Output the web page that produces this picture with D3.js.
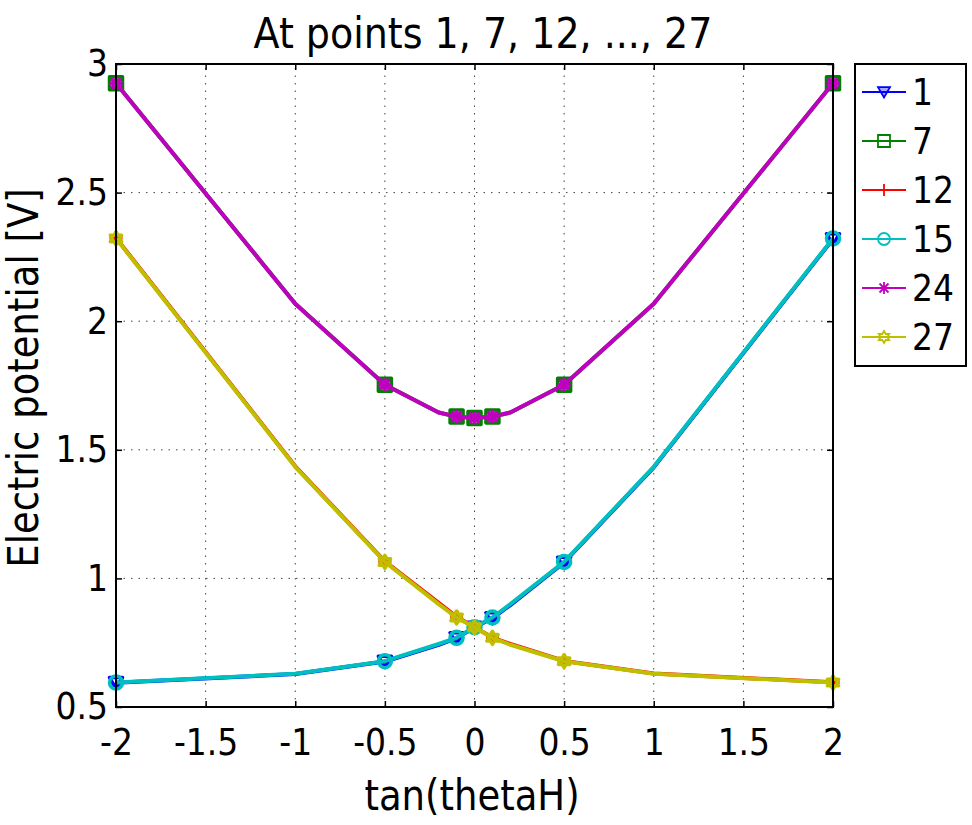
<!DOCTYPE html>
<html lang="en">
<head>
<meta charset="UTF-8">
<title>At points 1, 7, 12, ..., 27</title>
<script src="https://d3js.org/d3.v7.min.js"></script>
<style>
  body { margin: 0; background: #fff; }
  text { font-family: "DejaVu Sans", Verdana, sans-serif; fill: #000; }
</style>
</head>
<body>
<script>
// data
var xVals = [-2, -1, -0.5, -0.2, -0.1, 0, 0.1, 0.2, 0.5, 1, 2];
var markerX = [-2, -0.5, -0.1, 0, 0.1, 0.5, 2];
var xTicks = [-2, -1.5, -1, -0.5, 0, 0.5, 1, 1.5, 2];
var yTicks = [0.5, 1, 1.5, 2, 2.5, 3];
var pointNames = ["1", "7", "12", "15", "24", "27"];
var v1  = [0.594, 0.628, 0.677, 0.742, 0.768, 0.809, 0.846, 0.896, 1.062, 1.432, 2.320];
var v7  = [2.925, 2.068, 1.753, 1.645, 1.629, 1.624, 1.629, 1.645, 1.753, 2.068, 2.925];
var v12 = [2.324, 1.436, 1.066, 0.905, 0.851, 0.810, 0.770, 0.745, 0.679, 0.630, 0.596];
var v15 = [0.595, 0.629, 0.678, 0.745, 0.769, 0.810, 0.848, 0.900, 1.064, 1.434, 2.322];
var v24 = [2.925, 2.068, 1.753, 1.645, 1.629, 1.624, 1.629, 1.645, 1.753, 2.068, 2.925];
var v27 = [2.322, 1.434, 1.064, 0.900, 0.848, 0.810, 0.769, 0.742, 0.678, 0.629, 0.595];

var colors = ["#0000ff", "#008000", "#ff0000", "#00bfbf", "#bf00bf", "#bfbf00"];
var markers = ["v", "s", "+", "o", "*", "h"];
var allValues = [v1, v7, v12, v15, v24, v27];

var width = 972, height = 825;
var margin = {left: 116, right: 139, top: 64, bottom: 118};
var stretch = 1.13;   // the original text is a bit taller than DejaVu

var svg = d3.select("body").append("svg")
    .attr("width", width)
    .attr("height", height);

var x = d3.scaleLinear().domain([-2, 2]).range([margin.left, width - margin.right]);
var y = d3.scaleLinear().domain([0.5, 3]).range([height - margin.bottom, margin.top]);

// grid
var grid = svg.append("g").attr("stroke", "#444").attr("stroke-width", 1).attr("stroke-dasharray", "1.5,6");
grid.selectAll(".gx").data(xTicks).enter().append("line")
    .attr("x1", d => x(d)).attr("x2", d => x(d))
    .attr("y1", y(0.5)).attr("y2", y(3));
grid.selectAll(".gy").data(yTicks).enter().append("line")
    .attr("y1", d => y(d)).attr("y2", d => y(d))
    .attr("x1", x(-2)).attr("x2", x(2));

// axes with inward ticks
function fmt(d) { return String(d); }
var axB = svg.append("g").attr("transform", "translate(0," + y(0.5) + ")")
    .call(d3.axisBottom(x).tickValues(xTicks).tickFormat(fmt).tickSizeInner(-6).tickSizeOuter(0).tickPadding(19));
var axT = svg.append("g").attr("transform", "translate(0," + y(3) + ")")
    .call(d3.axisTop(x).tickValues(xTicks).tickFormat("").tickSizeInner(-6).tickSizeOuter(0));
var axL = svg.append("g").attr("transform", "translate(" + x(-2) + ",0)")
    .call(d3.axisLeft(y).tickValues(yTicks).tickFormat(fmt).tickSizeInner(-6).tickSizeOuter(0).tickPadding(8));
var axR = svg.append("g").attr("transform", "translate(" + x(2) + ",0)")
    .call(d3.axisRight(y).tickValues(yTicks).tickFormat("").tickSizeInner(-6).tickSizeOuter(0));
[axB, axT, axL, axR].forEach(function(a) {
    a.select(".domain").remove();
    a.selectAll("line").attr("stroke", "#000").attr("stroke-width", 1.5);
    a.selectAll("text").attr("font-size", 33).attr("font-family", "DejaVu Sans").attr("fill", "#000")
        .attr("transform", "scale(1," + stretch + ")");
});

// marker shapes
function markerPath(type, s) {
    var h = s / 2, p;
    if (type === "v") return "M" + (-h) + "," + (-h * 0.8) + "L" + h + "," + (-h * 0.8) + "L0," + (h * 0.9) + "Z";
    if (type === "s") return "M" + (-h) + "," + (-h) + "H" + h + "V" + h + "H" + (-h) + "Z";
    if (type === "+") return "M" + (-h) + ",0H" + h + "M0," + (-h) + "V" + h;
    if (type === "o") return "M" + h + ",0A" + h + "," + h + " 0 1,1 " + (-h) + ",0A" + h + "," + h + " 0 1,1 " + h + ",0Z";
    if (type === "*") {
        var k = h * 0.75;
        return "M" + (-h) + ",0H" + h + "M0," + (-h) + "V" + h +
            "M" + (-k) + "," + (-k) + "L" + k + "," + k + "M" + (-k) + "," + k + "L" + k + "," + (-k);
    }
    if (type === "h") {
        p = [];
        for (var i = 0; i < 12; i++) {
            var r = i % 2 === 0 ? h : h / Math.sqrt(3);
            var a = -Math.PI / 2 + i * Math.PI / 6;
            p.push([r * Math.cos(a), r * Math.sin(a)]);
        }
        return "M" + p.join("L") + "Z";
    }
}

var line = d3.line()
    .x(function(d) { return x(d[0]); })
    .y(function(d) { return y(d[1]); });

var plot = svg.append("g");
allValues.forEach(function(vals, k) {
    var pts = xVals.map(function(xv, i) { return [xv, vals[i]]; });
    plot.append("path")
        .attr("d", line(pts))
        .attr("fill", "none")
        .attr("stroke", colors[k])
        .attr("stroke-width", 4)
        .attr("stroke-linejoin", "round");
    plot.selectAll(".m" + k)
        .data(pts.filter(function(d) { return markerX.indexOf(d[0]) >= 0; }))
        .enter().append("path")
        .attr("transform", function(d) { return "translate(" + x(d[0]) + "," + y(d[1]) + ")"; })
        .attr("d", markerPath(markers[k], 13))
        .attr("fill", "none")
        .attr("stroke", colors[k])
        .attr("stroke-width", 3.5)
        .attr("stroke-linejoin", "round");
});

// box
svg.append("rect")
    .attr("x", x(-2)).attr("y", y(3))
    .attr("width", x(2) - x(-2)).attr("height", y(0.5) - y(3))
    .attr("fill", "none").attr("stroke", "#000").attr("stroke-width", 2);

// title and labels
function label(tx, ty, rot, size, str) {
    svg.append("text")
        .attr("transform", "translate(" + tx + "," + ty + ")" + (rot ? " rotate(-90)" : "") + " scale(1," + stretch + ")")
        .attr("text-anchor", "middle")
        .attr("font-size", size)
        .text(str);
}
label(483, 48, false, 38, "At points 1, 7, 12, ..., 27");
label(472, 810, false, 37, "tan(thetaH)");
label(38, 378, true, 37, "Electric potential [V]");

// legend
var lg = svg.append("g");
lg.append("rect").attr("x", 855).attr("y", 64).attr("width", 111).attr("height", 302)
    .attr("fill", "#fff").attr("stroke", "#000").attr("stroke-width", 2);
pointNames.forEach(function(name, k) {
    var ly = 92 + k * 49;
    lg.append("line").attr("x1", 862).attr("x2", 906).attr("y1", ly).attr("y2", ly)
        .attr("stroke", colors[k]).attr("stroke-width", 2);
    lg.append("path").attr("transform", "translate(884," + ly + ")")
        .attr("d", markerPath(markers[k], 12))
        .attr("fill", markers[k] === "v" ? "rgba(0,0,255,0.35)" : "none")
        .attr("stroke", colors[k]).attr("stroke-width", 1.8);
    lg.append("text").attr("transform", "translate(912," + ly + ") scale(1," + stretch + ")")
        .attr("dy", "0.36em")
        .attr("font-size", 33).text(name);
});
</script>
</body>
</html>
